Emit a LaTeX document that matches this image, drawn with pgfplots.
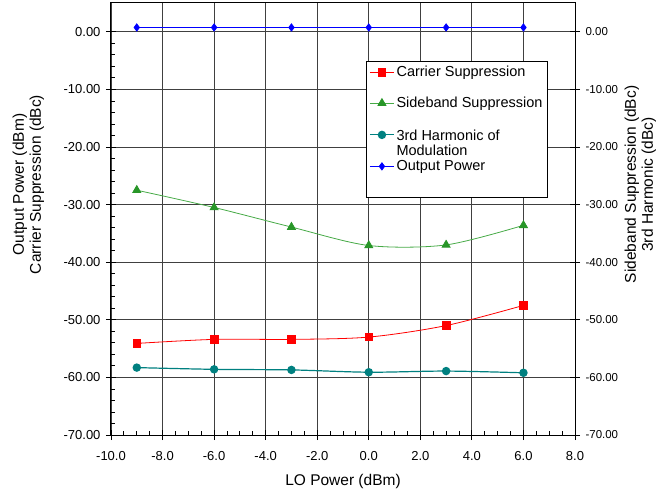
\documentclass[border=0pt]{standalone}
\usepackage{fontspec}
\setmainfont{Liberation Sans}
\usepackage{pgfplots}
\usepackage{pgfplotstable}
\pgfplotsset{compat=1.18}
\definecolor{cred}{RGB}{255,0,0}
\definecolor{cgreenl}{RGB}{70,170,70}
\definecolor{cgreen}{RGB}{40,150,40}
\definecolor{cteal}{RGB}{0,128,128}
\definecolor{cblue}{RGB}{0,0,255}
\newcommand{\tickfont}{\fontsize{13bp}{16bp}\selectfont}
\newcommand{\rtickfont}{\fontsize{11.5bp}{14bp}\selectfont}
\newcommand{\labfont}{\fontsize{15.5bp}{17bp}\selectfont}
\newcommand{\legfont}{\fontsize{14.5bp}{17bp}\selectfont}

\pgfplotstableread{
x y
-9 -54.1
-6 -53.4
-3 -53.4
0 -53.0
3 -51.0
6 -47.5
}\carrier
\pgfplotstableread{
x y
-9 -27.5
-6 -30.5
-3 -33.9
0 -37.1
3 -37.0
6 -33.6
}\sideband
\pgfplotstableread{
x y
-9 -58.3
-6 -58.6
-3 -58.7
0 -59.1
3 -58.9
6 -59.2
}\harm
\pgfplotstableread{
x y
-9 0.75
-6 0.75
-3 0.75
0 0.75
3 0.75
6 0.75
}\outp

\begin{document}
\begin{tikzpicture}
\begin{axis}[name=A, scale only axis, width=464bp, height=432bp,
  xmin=-10, xmax=8, ymin=-70, ymax=5,
  xtick={-10,-8,...,8}, ytick={-70,-60,...,0},
  minor x tick num=3, minor y tick num=4,
  xtick pos=bottom, ytick pos=left,
  tick align=inside, major tick length=10bp, minor tick length=4bp,
  major x tick style={yshift=-5bp}, major y tick style={xshift=-5bp},
  grid=major, major grid style={black!75, line width=0.8bp},
  axis line style={line width=1bp},
  tick style={black, line width=0.8bp},
  /pgf/number format/assume math mode=true,
  xticklabel style={font=\tickfont, yshift=-13bp, /pgf/number format/.cd, fixed, fixed zerofill, precision=1},
  yticklabel style={font=\tickfont, xshift=-7bp, /pgf/number format/.cd, fixed, fixed zerofill, precision=2},
  xlabel={LO Power (dBm)},
  ylabel={Output Power (dBm)\\Carrier Suppression (dBc)},
  ylabel style={align=center, font=\labfont, at={(rel axis cs:-0.178,0.58)}, anchor=center},
  xlabel style={font=\labfont, at={(rel axis cs:0.5,-0.108)}, anchor=center},
  legend style={at={(axis cs:-0.11,-5.04)}, anchor=north west, draw=black, line width=0.8bp,
    font=\legfont, row sep=15bp, inner xsep=3bp, inner ysep=3bp},
  legend cell align=left,
  legend image code/.code={\draw[mark repeat=2,mark phase=2] plot coordinates {(0bp,0bp)(12bp,0bp)(24bp,0bp)};},
]
\addplot[cred, line width=0.8bp, smooth, tension=0.5, mark=square*, mark size=3.8bp, mark options={fill=cred, draw=cred}] table {\carrier};
\addlegendentry{Carrier Suppression}
\addplot[cgreenl, line width=0.8bp, smooth, tension=0.5, mark=triangle*, mark size=4.6bp, mark options={fill=cgreen, draw=cgreen}] table {\sideband};
\addlegendentry{Sideband Suppression}
\addplot[cteal, line width=1.2bp, smooth, tension=0.5, mark=*, mark size=3.6bp, mark options={fill=cteal, draw=cteal}] table {\harm};
\addlegendentry{\raisebox{0pt}[\height][0pt]{\begin{tabular}[t]{@{}l@{}}3rd Harmonic of\\[-2bp]Modulation\end{tabular}}}
\addplot[cblue, line width=0.8bp, mark=diamond*, mark size=3.6bp, mark options={fill=cblue, draw=cblue}] table {\outp};
\addlegendentry{Output Power}
\addlegendimage{empty legend}
\addlegendentry{}
\end{axis}
\begin{axis}[scale only axis, width=464bp, height=432bp,
  xmin=-10, xmax=8, ymin=-70, ymax=5,
  axis x line=none, axis y line*=right,
  ytick={-70,-60,...,0},
  tick align=inside, major tick length=10bp,
  major y tick style={xshift=5bp},
  axis line style={line width=1bp},
  tick style={black, line width=0.8bp},
  /pgf/number format/assume math mode=true,
  yticklabel style={font=\rtickfont, xshift=7bp, /pgf/number format/.cd, fixed, fixed zerofill, precision=2},
  ylabel={Sideband Suppression (dBc)\\3rd Harmonic (dBc)},
  ylabel style={align=center, font=\labfont, at={(rel axis cs:1.141,0.58)}, anchor=center},
]
\end{axis}
\pgfresetboundingbox
\path[use as bounding box] ([xshift=-111bp,yshift=-58bp]A.south west) rectangle ([xshift=94bp,yshift=3bp]A.north east);
\end{tikzpicture}
\end{document}
